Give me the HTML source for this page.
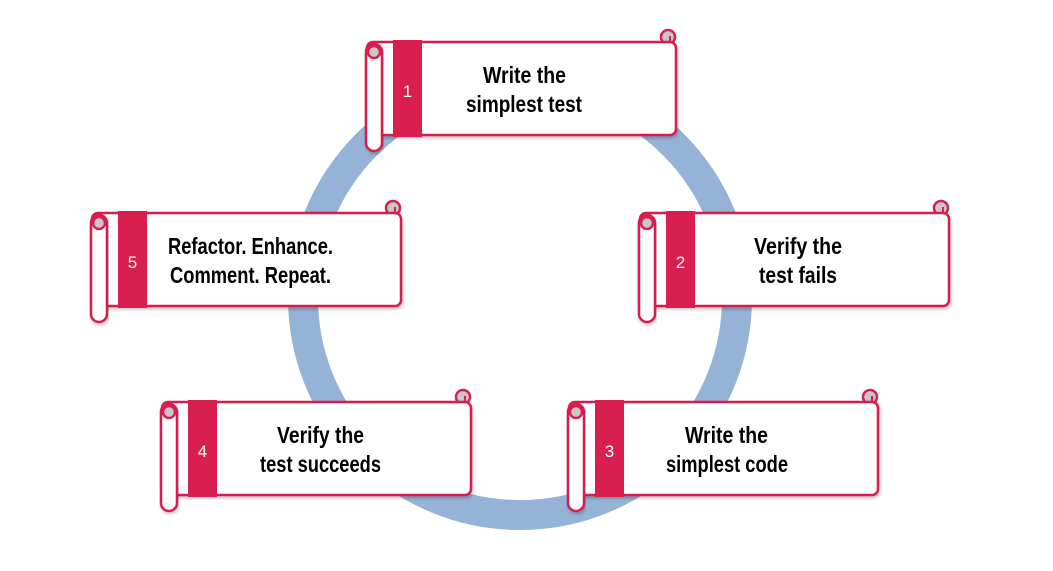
<!DOCTYPE html>
<html><head><meta charset="utf-8"><style>
html,body{margin:0;padding:0;background:#fff;}
svg{display:block;}
text{font-family:"Liberation Sans Narrow","Liberation Sans",sans-serif;}
.t{font-weight:bold;}
</style></head><body>
<svg width="1053" height="571" viewBox="0 0 1053 571" xmlns="http://www.w3.org/2000/svg">
<defs>
<filter id="sh" x="-10%" y="-10%" width="120%" height="130%">
<feDropShadow dx="1" dy="2" stdDeviation="1.5" flood-color="#000" flood-opacity="0.25"/>
</filter>
<g id="scroll">
  <circle cx="301" cy="-5" r="7" fill="#c8c8c8" stroke="#d81f4f" stroke-width="2.5"/>
  <rect x="0" y="0" width="309" height="93" rx="6" fill="#fff" stroke="#d81f4f" stroke-width="2.5" filter="url(#sh)"/>
  <path d="M303 0 L303 -6" stroke="#d81f4f" stroke-width="2"/>
  <rect x="-1" y="2" width="16" height="107" rx="8" fill="#fff" stroke="#d81f4f" stroke-width="2.5" filter="url(#sh)"/>
  <circle cx="7" cy="10" r="6" fill="#c8c8c8" stroke="#d81f4f" stroke-width="2.5"/>
  <rect x="26" y="-2" width="29" height="97" fill="#d81f4f"/>
</g>
</defs>
<circle cx="520" cy="298" r="217" fill="none" stroke="#94b3d6" stroke-width="30"/>

<g transform="translate(367,42)"><use href="#scroll"/>
<text x="40.5" y="55" font-size="17" fill="#fff" text-anchor="middle" font-family="Liberation Sans">1</text>
<text class="t" x="116" y="41" font-size="23" fill="#000" textLength="83" lengthAdjust="spacingAndGlyphs">Write the</text>
<text class="t" x="99" y="70" font-size="23" fill="#000" textLength="116" lengthAdjust="spacingAndGlyphs">simplest test</text>
</g>

<g transform="translate(640,213)"><use href="#scroll"/>
<text x="40.5" y="55" font-size="17" fill="#fff" text-anchor="middle" font-family="Liberation Sans">2</text>
<text class="t" x="114" y="41" font-size="23" fill="#000" textLength="88" lengthAdjust="spacingAndGlyphs">Verify the</text>
<text class="t" x="119" y="70" font-size="23" fill="#000" textLength="78" lengthAdjust="spacingAndGlyphs">test fails</text>
</g>

<g transform="translate(92,213)"><use href="#scroll"/>
<text x="40.5" y="55" font-size="17" fill="#fff" text-anchor="middle" font-family="Liberation Sans">5</text>
<text class="t" x="76" y="41" font-size="23" fill="#000" textLength="165" lengthAdjust="spacingAndGlyphs">Refactor. Enhance.</text>
<text class="t" x="78" y="70" font-size="23" fill="#000" textLength="161" lengthAdjust="spacingAndGlyphs">Comment. Repeat.</text>
</g>

<g transform="translate(162,402)"><use href="#scroll"/>
<text x="40.5" y="55" font-size="17" fill="#fff" text-anchor="middle" font-family="Liberation Sans">4</text>
<text class="t" x="115" y="41" font-size="23" fill="#000" textLength="87" lengthAdjust="spacingAndGlyphs">Verify the</text>
<text class="t" x="98" y="70" font-size="23" fill="#000" textLength="121" lengthAdjust="spacingAndGlyphs">test succeeds</text>
</g>

<g transform="translate(569,402)"><use href="#scroll"/>
<text x="40.5" y="55" font-size="17" fill="#fff" text-anchor="middle" font-family="Liberation Sans">3</text>
<text class="t" x="116" y="41" font-size="23" fill="#000" textLength="83" lengthAdjust="spacingAndGlyphs">Write the</text>
<text class="t" x="97" y="70" font-size="23" fill="#000" textLength="122" lengthAdjust="spacingAndGlyphs">simplest code</text>
</g>
</svg>
</body></html>
